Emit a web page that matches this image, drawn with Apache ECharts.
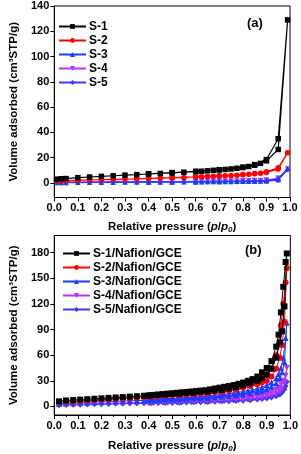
<!DOCTYPE html>
<html><head><meta charset="utf-8">
<script src="https://cdn.jsdelivr.net/npm/echarts@6/dist/echarts.min.js"></script>
<style>html,body{margin:0;padding:0;background:#fff}#c{width:301px;height:454px}</style>
</head><body><div id="c"></div>
<script>
// ---------- Panel (a) ----------
var xAdsA = [0.01,0.03,0.05,0.1,0.15,0.2,0.25,0.3,0.35,0.4,0.45,0.5,0.55,0.6,0.625,0.65,0.675,0.7,0.725,0.75,0.775,0.8,0.825,0.85,0.875,0.9,0.95,0.99];
var xDesA = [0.95,0.9,0.85,0.8,0.7,0.6,0.5,0.4];
var a1Ads = [3,3.3,3.5,4.2,4.7,5.2,5.7,6.2,6.6,7.1,7.5,8,8.5,9,9.3,9.6,10,10.3,10.7,11.1,11.6,12.2,13,14,15.5,17.5,26.5,129];
var a1Des = [35,18.5,14.5,12.5,10.5,9.2,8.2,7.3];
var a2Ads = [1.5,1.7,1.8,2.1,2.4,2.6,2.9,3.1,3.3,3.6,3.8,4.1,4.4,4.7,4.9,5.1,5.3,5.5,5.7,5.9,6.2,6.5,6.8,7.2,7.7,8.3,11,24];
var a2Des = [12,8.8,7.4,6.7,5.7,4.9,4.2,3.7];
var a3Ads = [0.3,0.3,0.4,0.5,0.5,0.6,0.6,0.7,0.7,0.8,0.8,0.9,0.9,1,1,1.1,1.1,1.1,1.2,1.2,1.3,1.4,1.4,1.5,1.6,1.8,2.8,11.5];
var a3Des = [3.2,1.9,1.6,1.4,1.2,1,0.9,0.8];
var a4Ads = [0.5,0.5,0.6,0.7,0.7,0.8,0.8,0.9,0.9,1,1,1.1,1.1,1.2,1.2,1.3,1.3,1.4,1.4,1.5,1.5,1.6,1.7,1.8,1.9,2.1,3.5,11];
var a4Des = [3.8,2.2,1.9,1.7,1.4,1.2,1.1,1];
var a5Ads = [0.2,0.2,0.3,0.3,0.4,0.4,0.5,0.5,0.5,0.6,0.6,0.7,0.7,0.8,0.8,0.8,0.9,0.9,0.9,1,1,1.1,1.1,1.2,1.3,1.4,2.2,10.5];
var a5Des = [2.6,1.5,1.3,1.1,1,0.8,0.7,0.6];
var namesA = ['S-1','S-2','S-3','S-4','S-5'];
var yTicksA = [0,20,40,60,80,100,120,140];

// ---------- Panel (b) ----------
var xAdsB = [0.02,0.05,0.08,0.11,0.14,0.17,0.2,0.23,0.26,0.29,0.32,0.35,0.38,0.41,0.44,0.47,0.5,0.53,0.56,0.59,0.62,0.65,0.68,0.71,0.74,0.77,0.8,0.83,0.86,0.88,0.9,0.92,0.94,0.955,0.965,0.975,0.985];
var xDesB = [0.98,0.97,0.96,0.95,0.94,0.92,0.9,0.88,0.86,0.84,0.82,0.8,0.78,0.76,0.74,0.72,0.7,0.68,0.66,0.64,0.62,0.6,0.58,0.56,0.54,0.52,0.5,0.48,0.46,0.44,0.42,0.4];
var b1Ads = [6,7,7.5,8,8.5,9,9.5,10,10.5,11,11.5,12,12.5,13,13.5,14,14.5,15,15.5,16,17,17.5,18.5,19.5,21,22.5,24.5,27,30,33,37,44,57,75,88,117,179];
var b1Des = [169,140,110,84,70,53,45,40,35,32,30,28,26.5,25,24,23,22,21,20,19,18.5,18,17.5,17,16.5,16,15.5,15,14.5,14,13.5,13];
var b2Ads = [5,5.5,6,6.5,7,7.5,8,8.5,9,9.5,10,10.5,11,11.5,12,12.5,13,13.5,14,14.5,15,15.5,16.5,17.5,18.5,20,22,24,26,28,30,35,44,57,72,99,162];
var b2Des = [145,120,95,72,60,45,38,33,29,27,25,24,22.5,21.5,20.5,19.5,19,18,17.5,17,16.5,16,15.5,15,14.5,14.2,14,13.5,13,12.7,12.3,12];
var b3Ads = [3,3.4,3.8,4.2,4.6,5,5.3,5.6,5.9,6.2,6.5,6.8,7.1,7.4,7.7,8,8.3,8.6,9,9.4,9.8,10.3,10.8,11.5,12.2,13,14,15.5,17,18.5,20,23,27,33,40,52,98];
var b3Des = [80,57,45,38,33,28,25,22.5,21,19.5,18.5,17.5,16.5,15.5,14.8,14.2,13.6,13,12.5,12,11.6,11.2,10.8,10.4,10,9.7,9.4,9.1,8.8,8.5,8.2,8];
var b4Ads = [2,2.3,2.6,2.9,3.1,3.3,3.5,3.7,3.9,4.1,4.3,4.5,4.7,4.9,5.1,5.3,5.5,5.7,5.9,6.1,6.3,6.6,6.9,7.2,7.6,8,8.5,9.2,10,10.8,11.8,13,15,17.5,21,27,45];
var b4Des = [36,30,26,22,19.5,16.5,15,13.8,12.8,12,11.4,11,10.5,10,9.6,9.2,8.8,8.5,8.2,7.9,7.6,7.3,7.1,6.9,6.7,6.5,6.3,6.1,5.9,5.8,5.6,5.5];
var b5Ads = [1.5,1.7,1.9,2.1,2.3,2.5,2.7,2.9,3.1,3.3,3.5,3.6,3.7,3.8,4,4.1,4.3,4.4,4.6,4.8,5,5.2,5.4,5.7,6,6.4,6.8,7.3,8,8.6,9.4,10.5,12,14,16.5,20,29];
var b5Des = [24,21,17.5,15,13.5,12,11,10,9.4,8.9,8.5,8.1,7.7,7.4,7.1,6.8,6.5,6.3,6.1,5.9,5.7,5.5,5.3,5.1,5,4.9,4.7,4.6,4.5,4.4,4.3,4.2];
var namesB = ['S-1/Nafion/GCE','S-2/Nafion/GCE','S-3/Nafion/GCE','S-4/Nafion/GCE','S-5/Nafion/GCE'];
var yTicksB = [0,30,60,90,120,150,180];

var colors = ['#000000','#ff0000','#1a3cff','#b833ff','#3a3af0'];
var symbols = ['rect','circle','triangle','triangle','diamond'];
var rotates = [0,0,0,180,0];

function pairs(xa, ya, xd, yd){
  var out = [];
  for (var i=0;i<xa.length;i++) out.push([xa[i], ya[i]]);
  for (var j=0;j<xd.length;j++) out.push([xd[j], yd[j]]);
  return out;
}

var dataA = [pairs(xAdsA,a1Ads,xDesA,a1Des),pairs(xAdsA,a2Ads,xDesA,a2Des),pairs(xAdsA,a3Ads,xDesA,a3Des),pairs(xAdsA,a4Ads,xDesA,a4Des),pairs(xAdsA,a5Ads,xDesA,a5Des)];
var dataB = [pairs(xAdsB,b1Ads,xDesB,b1Des),pairs(xAdsB,b2Ads,xDesB,b2Des),pairs(xAdsB,b3Ads,xDesB,b3Des),pairs(xAdsB,b4Ads,xDesB,b4Des),pairs(xAdsB,b5Ads,xDesB,b5Des)];

var FONT = '"Liberation Sans", Arial, sans-serif';
var series = [];
for (var k=0;k<5;k++){
  series.push({type:'line', name:namesA[k], xAxisIndex:0, yAxisIndex:0, data:dataA[k],
    symbol:symbols[k], symbolRotate:rotates[k], symbolSize:5.5, showAllSymbol:true,
    lineStyle:{color:colors[k], width:1.2}, itemStyle:{color:colors[k]}, z:10-k, animation:false});
}
for (var k2=0;k2<5;k2++){
  series.push({type:'line', name:namesB[k2], xAxisIndex:1, yAxisIndex:1, data:dataB[k2],
    symbol:symbols[k2], symbolRotate:rotates[k2], symbolSize:6, showAllSymbol:true,
    lineStyle:{color:colors[k2], width:1}, itemStyle:{color:colors[k2]}, z:10-k2, animation:false});
}

function xAxisCfg(gi, gap){
  return {type:'value', gridIndex:gi, min:0, max:1, interval:0.1,
    axisLine:{onZero:false, lineStyle:{color:'#000', width:1}},
    axisTick:{length:4, lineStyle:{color:'#000'}},
    minorTick:{show:true, splitNumber:2, length:2, lineStyle:{color:'#000'}},
    splitLine:{show:false},
    axisLabel:{color:'#000', fontFamily:FONT, fontWeight:'bold', fontSize:11, margin:5,
      formatter:function(v){return v.toFixed(1);}},
    name:'{n|Relative pressure (}{i|p}{n|/}{i|p}{s|0}{n|)}', nameLocation:'middle', nameGap:gap,
    nameTextStyle:{rich:{
      n:{fontFamily:FONT, fontWeight:'bold', fontSize:11.5, color:'#000'},
      i:{fontFamily:FONT, fontWeight:'bold', fontStyle:'italic', fontSize:11.5, color:'#000'},
      s:{fontFamily:FONT, fontWeight:'bold', fontStyle:'italic', fontSize:8, color:'#000', padding:[6,0,0,0]}
    }}};
}
function yAxisCfg(gi, mn, mx, ticks){
  return {type:'value', gridIndex:gi, min:mn, max:mx,
    axisLine:{onZero:false, lineStyle:{color:'#000', width:1}},
    axisTick:{length:4, lineStyle:{color:'#000'}, customValues:ticks},
    splitLine:{show:false},
    axisLabel:{color:'#000', fontFamily:FONT, fontWeight:'bold', fontSize:11, margin:5, customValues:ticks},
    name:'Volume adsorbed (cm\u00b3STP/g)', nameLocation:'middle', nameGap:30,
    nameTextStyle:{fontFamily:FONT, fontWeight:'bold', fontSize:11.5, color:'#000'}};
}

var option = {
  backgroundColor:'#fff',
  animation:false,
  grid:[
    {left:45, top:6, width:245, height:191.5, show:true, borderColor:'#000', borderWidth:1, backgroundColor:'transparent'},
    {left:45, top:235.5, width:247, height:184.5, show:true, borderColor:'#000', borderWidth:1, backgroundColor:'transparent'}
  ],
  xAxis:[xAxisCfg(0,22), xAxisCfg(1,24)],
  yAxis:[yAxisCfg(0,-11.5,140,yTicksA), yAxisCfg(1,-10,200,yTicksB)],
  legend:[
    {data:namesA, orient:'vertical', left:53, top:15, itemWidth:27, itemHeight:6, itemGap:1,
      textStyle:{fontFamily:FONT, fontWeight:'bold', fontSize:12, color:'#000', lineHeight:13, padding:[0,0,0,-2]}},
    {data:namesB, orient:'vertical', left:57, top:242, itemWidth:27, itemHeight:6, itemGap:1,
      textStyle:{fontFamily:FONT, fontWeight:'bold', fontSize:12, color:'#000', lineHeight:13, padding:[0,0,0,-2]}}
  ],
  graphic:[
    {type:'text', left:247, top:17, style:{text:'(a)', font:'bold 13px "Liberation Sans", Arial', fill:'#000'}},
    {type:'text', left:245, top:244, style:{text:'(b)', font:'bold 13px "Liberation Sans", Arial', fill:'#000'}}
  ],
  series:series
};
var chart = echarts.init(document.getElementById('c'), null, {renderer:'canvas'});
chart.setOption(option);
</script>
</body></html>
